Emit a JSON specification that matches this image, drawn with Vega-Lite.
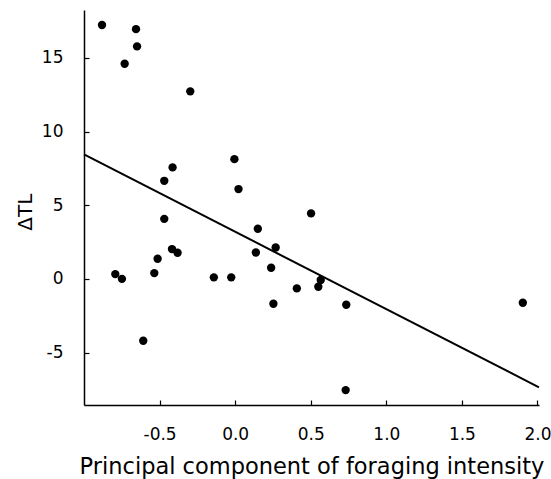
{
  "$schema": "https://vega.github.io/schema/vega-lite/v6.json",
  "width": 455,
  "height": 395,
  "autosize": {"type": "none"},
  "padding": {"left": 84, "top": 10, "right": 12, "bottom": 74},
  "background": "white",
  "config": {
    "view": {"stroke": null},
    "font": "DejaVu Sans",
    "axis": {
      "grid": false,
      "domainColor": "black",
      "domainWidth": 1.5,
      "tickColor": "black",
      "tickWidth": 1.2,
      "tickSize": -5,
      "labelFont": "DejaVu Sans",
      "labelFontSize": 17,
      "labelColor": "black",
      "labelPadding": 26,
      "titleFont": "DejaVu Sans",
      "titleColor": "black",
      "titleFontWeight": "normal"
    }
  },
  "datasets": {
    "points": [
      {"pc": -0.881, "dtl": 17.23},
      {"pc": -0.656, "dtl": 16.95},
      {"pc": -0.649, "dtl": 15.78},
      {"pc": -0.731, "dtl": 14.60},
      {"pc": -0.297, "dtl": 12.73},
      {"pc": -0.005, "dtl": 8.13},
      {"pc": -0.414, "dtl": 7.57},
      {"pc": -0.469, "dtl": 6.66},
      {"pc": 0.022, "dtl": 6.10},
      {"pc": -0.469, "dtl": 4.08},
      {"pc": 0.150, "dtl": 3.41},
      {"pc": 0.502, "dtl": 4.45},
      {"pc": 0.137, "dtl": 1.80},
      {"pc": -0.418, "dtl": 2.03},
      {"pc": -0.381, "dtl": 1.78},
      {"pc": -0.513, "dtl": 1.37},
      {"pc": -0.535, "dtl": 0.40},
      {"pc": -0.793, "dtl": 0.33},
      {"pc": -0.749, "dtl": 0.01},
      {"pc": -0.141, "dtl": 0.11},
      {"pc": -0.026, "dtl": 0.11},
      {"pc": 0.238, "dtl": 0.76},
      {"pc": 0.253, "dtl": -1.68},
      {"pc": -0.608, "dtl": -4.19},
      {"pc": 0.268, "dtl": 2.14},
      {"pc": 0.408, "dtl": -0.64},
      {"pc": 0.550, "dtl": -0.53},
      {"pc": 0.566, "dtl": -0.07},
      {"pc": 0.735, "dtl": -1.75},
      {"pc": 0.731, "dtl": -7.54},
      {"pc": 1.903, "dtl": -1.61}
    ],
    "fit": [
      {"pc": -1.0, "dtl": 8.45},
      {"pc": 2.01, "dtl": -7.35}
    ]
  },
  "layer": [
    {
      "data": {"name": "fit"},
      "mark": {"type": "line", "color": "black", "strokeWidth": 2},
      "encoding": {
        "x": {
          "field": "pc", "type": "quantitative",
          "scale": {"domain": [-1.0, 2.01], "nice": false, "zero": false},
          "axis": {
            "values": [-0.5, 0, 0.5, 1, 1.5, 2],
            "labelExpr": "replace(format(datum.value, '.1f'), '\u2212', '-')",
            "title": "Principal component of foraging intensity",
            "titleFontSize": 22.5,
            "titleBaseline": "alphabetic",
            "titleY": 68.3
          }
        },
        "y": {
          "field": "dtl", "type": "quantitative",
          "scale": {"domain": [-8.55, 18.25], "nice": false, "zero": false},
          "axis": {
            "values": [-5, 0, 5, 10, 15],
            "labelExpr": "replace(format(datum.value, 'd'), '\u2212', '-')",
            "title": "ΔTL",
            "titleFontSize": 20,
            "titleBaseline": "alphabetic",
            "titleX": -52.6,
            "titleY": 201.7,
            "titleAngle": -90,
            "titleAlign": "center"
          }
        }
      }
    },
    {
      "data": {"name": "points"},
      "mark": {"type": "circle", "color": "black", "opacity": 1, "size": 70},
      "encoding": {
        "x": {"field": "pc", "type": "quantitative"},
        "y": {"field": "dtl", "type": "quantitative"}
      }
    }
  ]
}
